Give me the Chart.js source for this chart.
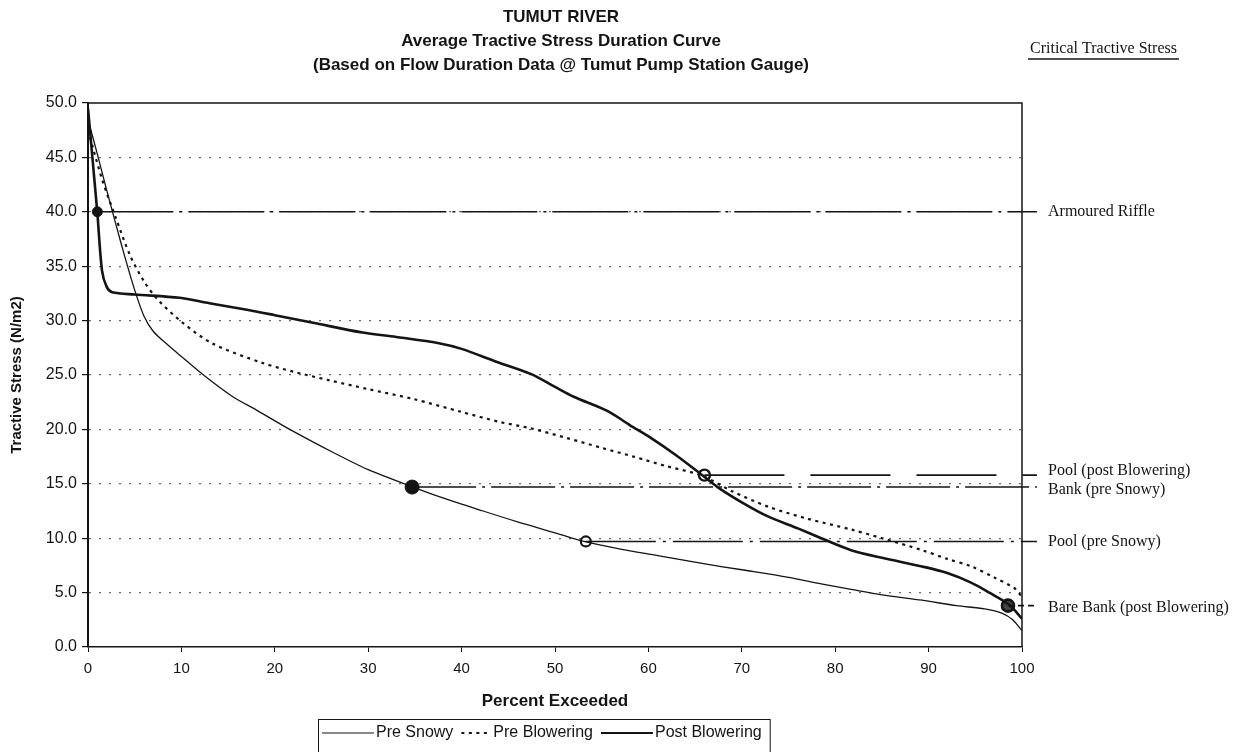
<!DOCTYPE html>
<html>
<head>
<meta charset="utf-8">
<script src="https://cdn.jsdelivr.net/npm/chart.js@4.4.1/dist/chart.umd.min.js"></script>
<style>
  html, body { margin: 0; padding: 0; background: #fff; }
  #wrap { width: 1247px; height: 752px; position: relative; }
</style>
</head>
<body>
<div id="wrap"><canvas id="chart"></canvas></div>
<script>
const titleLines = [
    "TUMUT RIVER",
    "Average Tractive Stress Duration Curve",
    "(Based on Flow Duration Data @ Tumut Pump Station Gauge)"
];
const critHeader = "Critical Tractive Stress";

// percent exceeded / tractive stress
const preSnowyX = [0, 1, 2, 3, 4, 5, 6, 7, 8.5, 10, 12.5, 15.5, 18, 21.6, 26.2, 30, 34.8, 38, 42.3, 46, 50, 53.1, 57, 61, 65.6, 70, 75, 78.5, 81.7, 85, 89.3, 93, 96, 97.9, 99, 100];
const preSnowyY = [48.5, 45.3, 42.0, 38.8, 35.7, 32.8, 30.4, 29.0, 27.8, 26.7, 24.9, 23.0, 21.8, 20.0, 17.9, 16.3, 14.7, 13.7, 12.5, 11.5, 10.5, 9.7, 9.0, 8.4, 7.7, 7.1, 6.4, 5.8, 5.3, 4.8, 4.3, 3.8, 3.5, 3.1, 2.5, 1.5];

const preBloweringX = [0, 1.5, 3.0, 4.5, 6, 7.5, 10, 13.3, 18.7, 22, 25.9, 30, 34.8, 40, 44, 47.4, 51.3, 55, 58.4, 62, 65.6, 69, 72.8, 77, 81.7, 85, 89.3, 92, 94.6, 97, 99.2, 100];
const preBloweringY = [47.5, 43.0, 39.4, 36.0, 33.6, 31.9, 29.9, 27.9, 26.1, 25.3, 24.5, 23.7, 22.8, 21.6, 20.7, 20.1, 19.2, 18.3, 17.5, 16.6, 15.8, 14.3, 12.9, 11.8, 10.8, 10.0, 8.9, 8.1, 7.4, 6.4, 5.4, 4.6];

const postBloweringX = [0, 0.5, 1.0, 1.5, 2.0, 2.6, 5, 9.8, 13, 17, 20, 24.1, 29.4, 33, 37.7, 40, 43.8, 47.4, 50, 52, 55.6, 58, 60.3, 63, 65.6, 67.4, 70, 72.8, 76, 78.5, 81.7, 85, 89.3, 92, 94.6, 96.5, 98.6, 100];
const postBloweringY = [49.5, 44.7, 39.9, 34.6, 33.1, 32.6, 32.4, 32.1, 31.6, 31.0, 30.5, 29.8, 28.9, 28.5, 27.9, 27.4, 26.2, 25.1, 23.9, 23.0, 21.7, 20.4, 19.2, 17.6, 15.9, 14.7, 13.3, 12.0, 10.9, 10.0, 8.9, 8.2, 7.4, 6.8, 5.9, 5.0, 3.9, 2.6];

// critical tractive stress thresholds
const critLabels = ["Armoured Riffle", "Pool (post Blowering)", "Bank (pre Snowy)", "Pool (pre Snowy)", "Bare Bank (post Blowering)"];
const critStress = [40.0, 15.8, 14.7, 9.7, 3.8];
const critExceed = [1.0, 66.0, 34.7, 53.3, 98.5];
const critLineEnd = 101.6;

const yTicks = [0, 5, 10, 15, 20, 25, 30, 35, 40, 45, 50];
const xTicks = [0, 10, 20, 30, 40, 50, 60, 70, 80, 90, 100];

const toPoints = (xs, ys) => xs.map((x, i) => ({ x: x, y: ys[i] }));

const ink = "#141414";
const sansFont = '"Liberation Sans", Arial, sans-serif';
const serifFont = '"Liberation Serif", "Times New Roman", serif';

const critDash = [[76, 6, 3, 6], [80, 26], [64, 6, 3, 6], [70, 7, 3, 7], [6, 4]];
const labelNudge = [0, -4, 3, 0, 2];

const curveSets = [
    {
        label: "Pre Snowy",
        data: toPoints(preSnowyX, preSnowyY),
        borderColor: ink,
        borderWidth: 1.3,
        borderDash: [],
    },
    {
        label: "Pre Blowering",
        data: toPoints(preBloweringX, preBloweringY),
        borderColor: ink,
        borderWidth: 2.2,
        borderDash: [3, 4.5],
    },
    {
        label: "Post Blowering",
        data: toPoints(postBloweringX, postBloweringY),
        borderColor: ink,
        borderWidth: 2.6,
        borderDash: [],
    },
];

const critSets = critLabels.map((lab, i) => ({
    label: lab,
    data: [{ x: critExceed[i], y: critStress[i] }, { x: critLineEnd, y: critStress[i] }],
    borderColor: ink,
    borderWidth: 1.6,
    borderDash: critDash[i],
    pointRadius: 0,
    tension: 0,
    clip: false,
}));

const markerSet = {
    label: "markers",
    type: "scatter",
    data: toPoints(critExceed, critStress),
    pointStyle: "circle",
    pointRadius: [5, 5.5, 7, 5, 6],
    pointBorderWidth: [1, 2.4, 1, 2.2, 2.6],
    pointBackgroundColor: [ink, "#fff", ink, "#fff", "#444"],
    pointBorderColor: ink,
    clip: false,
};

const decorPlugin = {
    id: "decor",
    beforeDatasetsDraw(chart) {
        const { ctx, chartArea: a } = chart;
        ctx.save();
        ctx.strokeStyle = ink;
        ctx.lineWidth = 1.5;
        ctx.beginPath();
        ctx.moveTo(a.left, a.top);
        ctx.lineTo(a.right, a.top);
        ctx.lineTo(a.right, a.bottom);
        ctx.stroke();
        ctx.restore();
    },
    afterDraw(chart) {
        const { ctx, chartArea: a, scales: { y } } = chart;
        ctx.save();
        ctx.fillStyle = ink;
        ctx.textBaseline = "middle";

        // titles
        const cx = (a.left + a.right) / 2 + 6;
        ctx.textAlign = "center";
        ctx.font = "bold 17px " + sansFont;
        titleLines.forEach((t, i) => ctx.fillText(t, cx, 17 + i * 24));

        // critical stress header, underlined
        ctx.font = "16px " + serifFont;
        ctx.textAlign = "left";
        const hx = a.right + 8;
        const hy = 49;
        ctx.fillText(critHeader, hx, hy);
        const hw = ctx.measureText(critHeader).width;
        ctx.strokeStyle = ink;
        ctx.lineWidth = 1.4;
        ctx.beginPath();
        ctx.moveTo(hx - 2, hy + 10);
        ctx.lineTo(hx + hw + 2, hy + 10);
        ctx.stroke();

        // critical stress labels
        ctx.font = "16px " + serifFont;
        critLabels.forEach((t, i) => {
            ctx.fillText(t, a.right + 26, y.getPixelForValue(critStress[i]) + labelNudge[i]);
        });

        // legend box
        ctx.font = "16px " + sansFont;
        const lx = 318, ly = 719, lh = 40;
        let px = lx + 4;
        const rowY = ly + 14;
        curveSets.forEach((ds, i) => {
            const sampleW = i === 1 ? 30 : 52;
            ctx.save();
            ctx.strokeStyle = ink;
            ctx.lineWidth = ds.borderWidth > 2 ? 2 : 1.2;
            ctx.setLineDash(ds.borderDash);
            ctx.beginPath();
            ctx.moveTo(px, rowY);
            ctx.lineTo(px + sampleW, rowY);
            ctx.stroke();
            ctx.restore();
            px += sampleW + 2;
            ctx.fillText(ds.label, px, rowY);
            px += ctx.measureText(ds.label).width + 8;
        });
        ctx.lineWidth = 1;
        ctx.strokeRect(lx + 0.5, ly + 0.5, px - lx, lh);
        ctx.restore();
    },
};

new Chart(document.getElementById("chart"), {
    type: "line",
    data: { datasets: [...curveSets, ...critSets, markerSet] },
    options: {
        animation: false,
        responsive: true,
        maintainAspectRatio: false,
        layout: { padding: { top: 103, right: 225, bottom: 35, left: 0 } },
        elements: {
            point: { radius: 0 },
            line: { tension: 0.3, fill: false },
        },
        plugins: {
            legend: { display: false },
            tooltip: { enabled: false },
        },
        scales: {
            x: {
                type: "linear",
                min: 0,
                max: 100,
                afterFit: (s) => { s.height = 70; },
                afterBuildTicks: (s) => { s.ticks = xTicks.map((v) => ({ value: v })); },
                ticks: {
                    color: ink,
                    font: { family: sansFont, size: 15 },
                    padding: 8,
                    maxRotation: 0,
                },
                grid: { drawOnChartArea: false, drawTicks: true, tickLength: 5, tickColor: ink },
                border: { display: true, color: ink, width: 1.5 },
                title: {
                    display: true,
                    text: "Percent Exceeded",
                    color: ink,
                    font: { family: sansFont, size: 17, weight: "bold" },
                    padding: { top: 4, bottom: 5 },
                },
            },
            y: {
                type: "linear",
                min: 0,
                max: 50,
                afterFit: (s) => { s.width = 88; },
                afterBuildTicks: (s) => { s.ticks = yTicks.map((v) => ({ value: v })); },
                ticks: {
                    color: ink,
                    font: { family: sansFont, size: 16 },
                    padding: 5,
                    callback: (v) => Number(v).toFixed(1),
                },
                grid: {
                    drawTicks: true,
                    tickLength: 6,
                    tickColor: ink,
                    lineWidth: 1.2,
                    color: (c) => (c.tick && (c.tick.value === 0 || c.tick.value === 50)) ? "rgba(0,0,0,0)" : "#6a6a6a",
                },
                border: { display: true, color: ink, width: 2, dash: [2, 8] },
                title: {
                    display: true,
                    text: "Tractive Stress (N/m2)",
                    color: ink,
                    font: { family: sansFont, size: 15, weight: "bold" },
                    padding: { top: 8, bottom: 4 },
                },
            },
        },
    },
    plugins: [decorPlugin],
});
</script>
</body>
</html>
